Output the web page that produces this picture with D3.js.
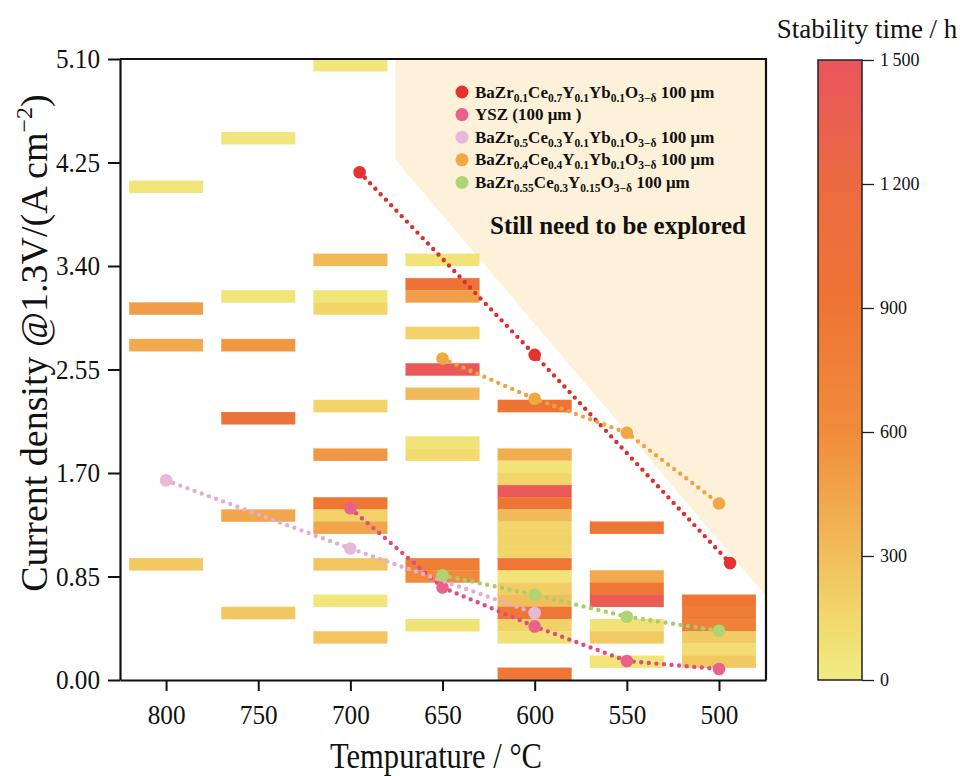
<!DOCTYPE html>
<html><head><meta charset="utf-8">
<script src="https://cdn.jsdelivr.net/npm/d3@7"></script>
<style>
body{margin:0;background:#fff;}
text{font-family:"Liberation Serif","Times New Roman",serif;}
</style></head>
<body><svg id="chart" width="962" height="776"></svg>
<script>
// ---------------- DATA ----------------
const temperatures = [800, 750, 700, 650, 600, 550, 500];
const yTicks = [0, 0.85, 1.70, 2.55, 3.40, 4.25, 5.10];
const colorTicks = [0, 300, 600, 900, 1200, 1500];
const binHeight = 0.1;   // each stability bar covers 0.1 A cm-2

// [temperature, lower current density, stability time (h)]
const bars800 = [[800,4.0,60],[800,3.0,500],[800,2.7,420],[800,0.9,240]];
const bars750 = [[750,4.4,50],[750,3.1,60],[750,2.7,530],[750,2.1,1000],[750,1.3,440],[750,0.5,250]];
const bars700 = [[700,5.0,50],[700,3.4,330],[700,3.1,60],[700,3.0,160],[700,2.2,170],[700,1.8,540],
                 [700,1.4,880],[700,1.3,190],[700,1.2,450],[700,0.9,260],[700,0.6,50],[700,0.3,260]];
const bars650 = [[650,3.4,70],[650,3.2,1000],[650,3.1,480],[650,2.8,190],[650,2.5,1450],[650,2.3,330],
                 [650,1.9,70],[650,1.8,130],[650,0.9,780],[650,0.8,640],[650,0.4,70]];
const bars600 = [[600,2.2,950],[600,1.8,400],[600,1.7,70],[600,1.6,160],[600,1.5,1450],[600,1.4,900],
                 [600,1.3,320],[600,1.2,170],[600,1.1,180],[600,1.0,170],[600,0.9,880],[600,0.8,70],
                 [600,0.7,220],[600,0.6,300],[600,0.5,880],[600,0.4,190],[600,0.3,80],[600,0.0,880]];
const bars550 = [[550,1.2,920],[550,0.8,420],[550,0.7,880],[550,0.6,1400],[550,0.4,80],[550,0.3,230],[550,0.1,60]];
const bars500 = [[500,0.6,900],[500,0.5,820],[500,0.4,740],[500,0.3,230],[500,0.2,110],[500,0.1,240]];
const allBars = [].concat(bars800, bars750, bars700, bars650, bars600, bars550, bars500);

const seriesBZCYYb1771 = [[695,4.17],[600,2.67],[494,0.96]];
const seriesYSZ        = [[700,1.41],[650,0.76],[600,0.44],[550,0.156],[500,0.09]];
const seriesBZCYYb5311 = [[800,1.64],[700,1.08],[600,0.55]];
const seriesBZCYYb4411 = [[650,2.64],[600,2.31],[550,2.03],[500,1.45]];
const seriesBZCY       = [[650,0.86],[600,0.70],[550,0.52],[500,0.405]];

// region still to be explored [temperature, current density]
const unexploredRegion = [[675.5,5.1],[675.5,4.27],[474.5,0.69],[474.5,5.1]];

// ---------------- STYLE ----------------
const seriesList = [
  {data: seriesBZCYYb1771, color:"#E4322C", line:"#D93030"},
  {data: seriesYSZ,        color:"#E8628C", line:"#DE4E80"},
  {data: seriesBZCYYb5311, color:"#E6B8DA", line:"#E2AED4"},
  {data: seriesBZCYYb4411, color:"#F0A844", line:"#EFA444"},
  {data: seriesBZCY,       color:"#AED474", line:"#A6CF6A"}
];
const legendItems = [
  {color:"#E4322C", parts:[["BaZr"],["0.1","s"],["Ce"],["0.7","s"],["Y"],["0.1","s"],["Yb"],["0.1","s"],["O"],["3−δ","s"],[" 100 μm","n"]]},
  {color:"#E8628C", parts:[["YSZ (100 μm )"]]},
  {color:"#E6B8DA", parts:[["BaZr"],["0.5","s"],["Ce"],["0.3","s"],["Y"],["0.1","s"],["Yb"],["0.1","s"],["O"],["3−δ","s"],[" 100 μm","n"]]},
  {color:"#F0A844", parts:[["BaZr"],["0.4","s"],["Ce"],["0.4","s"],["Y"],["0.1","s"],["Yb"],["0.1","s"],["O"],["3−δ","s"],[" 100 μm","n"]]},
  {color:"#AED474", parts:[["BaZr"],["0.55","s"],["Ce"],["0.3","s"],["Y"],["0.15","s"],["O"],["3−δ","s"],[" 100 μm","n"]]}
];

const svg = d3.select("#chart");
const pL = 120, pR = 766, pT = 59, pB = 680;
const x = d3.scaleLinear().domain([825, 474.5]).range([pL, pR]);
const y = d3.scaleLinear().domain([0, 5.1]).range([pB, pT]);
const color = d3.scaleLinear()
  .domain([0, 150, 300, 450, 600, 900, 1200, 1500])
  .range(["#F0EC82","#F2D86C","#F2BE5C","#F2A44C","#F08C3C","#EE7634","#EC6A42","#E8565C"])
  .clamp(true);
const halfWidth = 20; // °C

function condense(sel, factor) {
  sel.each(function() {
    const len = this.getComputedTextLength();
    d3.select(this).attr("textLength", len * factor).attr("lengthAdjust", "spacingAndGlyphs");
  });
}

// unexplored region
svg.append("path")
  .attr("d", d3.line().x(d => x(d[0])).y(d => y(d[1]))(unexploredRegion) + "Z")
  .attr("fill", "#FDF1D9");

// bars
svg.append("g").selectAll("rect").data(allBars).join("rect")
  .attr("x", d => x(d[0] + halfWidth))
  .attr("width", d => x(d[0] - halfWidth) - x(d[0] + halfWidth))
  .attr("y", d => y(d[1] + binHeight))
  .attr("height", d => y(d[1]) - y(d[1] + binHeight))
  .attr("fill", d => color(d[2]))
  .attr("stroke", d => color(d[2])).attr("stroke-width", 0.3);

// series lines and points
const line = d3.line().x(d => x(d[0])).y(d => y(d[1]));
seriesList.forEach(s => {
  svg.append("path").attr("d", line(s.data)).attr("fill","none")
    .attr("stroke", s.line).attr("stroke-width", 4.4)
    .attr("stroke-linecap","round").attr("stroke-dasharray","0 7.6");
  svg.append("g").selectAll("circle").data(s.data).join("circle")
    .attr("cx", d => x(d[0])).attr("cy", d => y(d[1])).attr("r", 6.3)
    .attr("fill", s.color);
});

// axes
const fmt2 = d3.format(".2f");
const yAxis = svg.append("g").attr("transform", `translate(${pL},0)`)
  .call(d3.axisLeft(y).tickValues(yTicks).tickFormat(fmt2).tickSize(12).tickSizeOuter(0).tickPadding(8));
const xAxis = svg.append("g").attr("transform", `translate(0,${pB})`)
  .call(d3.axisBottom(x).tickValues(temperatures).tickFormat(d3.format("d")).tickSize(11).tickSizeOuter(0).tickPadding(13));
[yAxis, xAxis].forEach(a => {
  a.select(".domain").attr("stroke","#111").attr("stroke-width",2.2);
  a.selectAll(".tick line").attr("stroke","#111").attr("stroke-width",2);
  a.selectAll(".tick text").attr("font-size",28).attr("fill","#111")
    .style("font-family",'"Liberation Serif",serif');
  condense(a.selectAll(".tick text"), 0.9);
});
// frame top & right
svg.append("path").attr("d", `M${pL},${pT}H${pR}V${pB}`)
  .attr("fill","none").attr("stroke","#111").attr("stroke-width",2.2);

// axis titles
svg.append("text").attr("transform", `translate(47,343) rotate(-90)`)
  .attr("text-anchor","middle").attr("font-size",38).attr("fill","#111")
  .call(t => {
    t.append("tspan").text("Current density @1.3V/(A cm");
    t.append("tspan").text("−2").attr("font-size",24).attr("dy",-15);
    t.append("tspan").text(")").attr("dy",15);
  });
svg.append("text").attr("x", 436).attr("y", 768).attr("text-anchor","middle")
  .attr("font-size",36).attr("fill","#111")
  .attr("textLength", 212).attr("lengthAdjust","spacingAndGlyphs")
  .text("Tempurature / °C");

// legend
const lg = svg.append("g");
legendItems.forEach((item, i) => {
  const ly = 92 + i * 22.6;
  lg.append("circle").attr("cx", 462).attr("cy", ly).attr("r", 6.5).attr("fill", item.color);
  const t = lg.append("text").attr("x", 475).attr("y", ly + 5.5)
    .attr("font-size", 17).attr("font-weight","bold").attr("fill","#111");
  let shifted = false;
  item.parts.forEach(p => {
    const ts = t.append("tspan").text(p[0]);
    if (p[1] === "s") { ts.attr("font-size",11.5).attr("dy", shifted ? 0 : 4); shifted = true; }
    else if (shifted) { ts.attr("dy", -4); shifted = false; }
  });
});
svg.append("text").attr("x", 618).attr("y", 234).attr("text-anchor","middle")
  .attr("font-size",26).attr("font-weight","bold").attr("fill","#111")
  .attr("textLength",256).attr("lengthAdjust","spacingAndGlyphs")
  .text("Still need to be explored");

// colour bar
const cbX = 818, cbW = 44;
const cScaleY = d3.scaleLinear().domain([0,1500]).range([pB, pT+1]);
const defs = svg.append("defs");
const grad = defs.append("linearGradient").attr("id","cbgrad").attr("x1",0).attr("y1",1).attr("x2",0).attr("y2",0);
d3.range(0, 1501, 50).forEach(v => grad.append("stop").attr("offset", v/1500).attr("stop-color", color(v)));
svg.append("rect").attr("x", cbX).attr("y", cScaleY(1500)).attr("width", cbW).attr("height", cScaleY(0)-cScaleY(1500))
  .attr("fill","url(#cbgrad)").attr("stroke","#222").attr("stroke-width",1.5);
const loc = d3.formatLocale({decimal:".", thousands:"\u2009", grouping:[3], currency:["",""]});
const cAxis = svg.append("g").attr("transform", `translate(${cbX+cbW},0)`)
  .call(d3.axisRight(cScaleY).tickValues(colorTicks).tickFormat(loc.format(",d")).tickSize(12).tickSizeOuter(0).tickPadding(6));
cAxis.select(".domain").remove();
cAxis.selectAll(".tick line").attr("stroke","#222").attr("stroke-width",1.3);
cAxis.selectAll(".tick text").attr("font-size",18).attr("fill","#111")
  .style("font-family",'"Liberation Serif",serif');
svg.append("text").attr("x", 867).attr("y", 38).attr("text-anchor","middle")
  .attr("font-size",27).attr("fill","#111")
  .text("Stability time / h");
</script></body></html>
